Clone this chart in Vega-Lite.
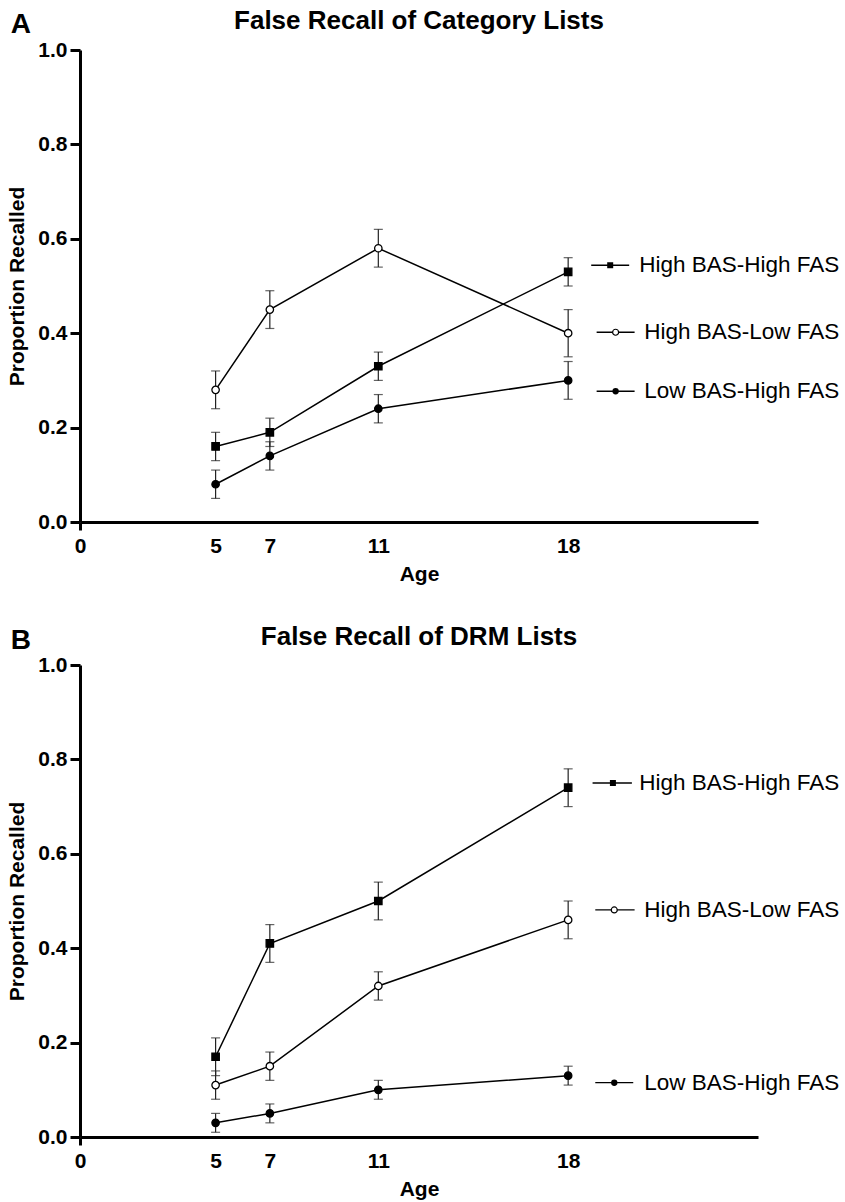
{
  "$schema": "https://vega.github.io/schema/vega-lite/v6.json",
  "background": "white",
  "padding": {"top": 8, "left": 6, "right": 0, "bottom": 2},
  "spacing": 40,
  "datasets": {
    "pts": [
      {"panel": "A", "series": "High BAS-High FAS", "age": 5, "mean": 0.16, "lo": 0.13, "hi": 0.19},
      {"panel": "A", "series": "High BAS-High FAS", "age": 7, "mean": 0.19, "lo": 0.16, "hi": 0.22},
      {"panel": "A", "series": "High BAS-High FAS", "age": 11, "mean": 0.33, "lo": 0.30, "hi": 0.36},
      {"panel": "A", "series": "High BAS-High FAS", "age": 18, "mean": 0.53, "lo": 0.50, "hi": 0.56},
      {"panel": "A", "series": "High BAS-Low FAS", "age": 5, "mean": 0.28, "lo": 0.24, "hi": 0.32},
      {"panel": "A", "series": "High BAS-Low FAS", "age": 7, "mean": 0.45, "lo": 0.41, "hi": 0.49},
      {"panel": "A", "series": "High BAS-Low FAS", "age": 11, "mean": 0.58, "lo": 0.54, "hi": 0.62},
      {"panel": "A", "series": "High BAS-Low FAS", "age": 18, "mean": 0.40, "lo": 0.35, "hi": 0.45},
      {"panel": "A", "series": "Low BAS-High FAS", "age": 5, "mean": 0.08, "lo": 0.05, "hi": 0.11},
      {"panel": "A", "series": "Low BAS-High FAS", "age": 7, "mean": 0.14, "lo": 0.11, "hi": 0.17},
      {"panel": "A", "series": "Low BAS-High FAS", "age": 11, "mean": 0.24, "lo": 0.21, "hi": 0.27},
      {"panel": "A", "series": "Low BAS-High FAS", "age": 18, "mean": 0.30, "lo": 0.26, "hi": 0.34},
      {"panel": "B", "series": "High BAS-High FAS", "age": 5, "mean": 0.17, "lo": 0.13, "hi": 0.21},
      {"panel": "B", "series": "High BAS-High FAS", "age": 7, "mean": 0.41, "lo": 0.37, "hi": 0.45},
      {"panel": "B", "series": "High BAS-High FAS", "age": 11, "mean": 0.50, "lo": 0.46, "hi": 0.54},
      {"panel": "B", "series": "High BAS-High FAS", "age": 18, "mean": 0.74, "lo": 0.70, "hi": 0.78},
      {"panel": "B", "series": "High BAS-Low FAS", "age": 5, "mean": 0.11, "lo": 0.08, "hi": 0.14},
      {"panel": "B", "series": "High BAS-Low FAS", "age": 7, "mean": 0.15, "lo": 0.12, "hi": 0.18},
      {"panel": "B", "series": "High BAS-Low FAS", "age": 11, "mean": 0.32, "lo": 0.29, "hi": 0.35},
      {"panel": "B", "series": "High BAS-Low FAS", "age": 18, "mean": 0.46, "lo": 0.42, "hi": 0.50},
      {"panel": "B", "series": "Low BAS-High FAS", "age": 5, "mean": 0.03, "lo": 0.01, "hi": 0.05},
      {"panel": "B", "series": "Low BAS-High FAS", "age": 7, "mean": 0.05, "lo": 0.03, "hi": 0.07},
      {"panel": "B", "series": "Low BAS-High FAS", "age": 11, "mean": 0.10, "lo": 0.08, "hi": 0.12},
      {"panel": "B", "series": "Low BAS-High FAS", "age": 18, "mean": 0.13, "lo": 0.11, "hi": 0.15}
    ]
  },
  "vconcat": [
    {
      "width": 678,
      "height": 472,
      "title": {"text": "False Recall of Category Lists"},
      "data": {"name": "pts"},
      "transform": [{"filter": "datum.panel === 'A'"}],
      "layer": [
        {
          "mark": {"type": "line", "color": "black", "strokeWidth": 1.5},
          "encoding": {
            "x": {"field": "age", "type": "quantitative", "title": "Age", "scale": {"domain": [0, 25], "nice": false}, "axis": {"values": [0, 5, 7, 11, 18], "tickSize": 8, "tickColor": {"condition": {"test": "datum.value === 0", "value": "black"}, "value": "transparent"}, "labelPadding": 5, "titlePadding": 7, "labelFlush": false}},
            "y": {"field": "mean", "type": "quantitative", "title": "Proportion Recalled", "scale": {"domain": [0, 1], "nice": false}, "axis": {"values": [0, 0.2, 0.4, 0.6, 0.8, 1], "format": ".1f", "tickSize": 10, "labelPadding": 3, "titlePadding": 10}},
            "detail": {"field": "series"}
          }
        },
        {
          "mark": {"type": "errorbar", "color": "#222", "ticks": {"size": 9, "thickness": 1.2}, "rule": {"strokeWidth": 1.2}},
          "encoding": {
            "x": {"field": "age", "type": "quantitative", "title": "Age"},
            "y": {"field": "lo", "type": "quantitative", "title": "Proportion Recalled"},
            "y2": {"field": "hi"}
          }
        },
        {
          "mark": {"type": "point", "stroke": "black", "strokeWidth": 1.3, "opacity": 1, "size": 55},
          "encoding": {
            "x": {"field": "age", "type": "quantitative", "title": "Age"},
            "y": {"field": "mean", "type": "quantitative", "title": "Proportion Recalled"},
            "shape": {"field": "series", "type": "nominal", "scale": {"domain": ["High BAS-High FAS", "High BAS-Low FAS", "Low BAS-High FAS"], "range": ["square", "circle", "circle"]}, "legend": null},
            "fill": {"field": "series", "type": "nominal", "scale": {"domain": ["High BAS-High FAS", "High BAS-Low FAS", "Low BAS-High FAS"], "range": ["black", "white", "black"]}, "legend": null}
          }
        },
        {
          "data": {"values": [{"label": "A"}]},
          "mark": {"type": "text", "fontSize": 28, "fontWeight": "bold", "align": "center", "baseline": "alphabetic", "color": "black"},
          "encoding": {"x": {"datum": -2.18, "type": "quantitative"}, "y": {"datum": 1.035, "type": "quantitative"}, "text": {"field": "label"}}
        },
        {
          "data": {"values": [{"series": "High BAS-High FAS"}]},
          "encoding": {"y": {"datum": 0.544, "type": "quantitative"}},
          "layer": [
            {"mark": {"type": "rule", "color": "black", "strokeWidth": 1.3}, "encoding": {"x": {"datum": 18.85, "type": "quantitative"}, "x2": {"datum": 20.25}}},
            {"mark": {"type": "point", "shape": "square", "filled": true, "color": "black", "opacity": 1, "size": 36}, "encoding": {"x": {"datum": 19.55, "type": "quantitative"}}},
            {"mark": {"type": "text", "align": "right", "baseline": "middle", "fontSize": 22.5, "color": "black"}, "encoding": {"x": {"datum": 28.0, "type": "quantitative"}, "text": {"field": "series"}}}
          ]
        },
        {
          "data": {"values": [{"series": "High BAS-Low FAS"}]},
          "encoding": {"y": {"datum": 0.402, "type": "quantitative"}},
          "layer": [
            {"mark": {"type": "rule", "color": "black", "strokeWidth": 1.3}, "encoding": {"x": {"datum": 19.05, "type": "quantitative"}, "x2": {"datum": 20.45}}},
            {"mark": {"type": "point", "shape": "circle", "filled": true, "fill": "white", "stroke": "black", "strokeWidth": 1.2, "opacity": 1, "size": 36}, "encoding": {"x": {"datum": 19.75, "type": "quantitative"}}},
            {"mark": {"type": "text", "align": "right", "baseline": "middle", "fontSize": 22.5, "color": "black"}, "encoding": {"x": {"datum": 28.0, "type": "quantitative"}, "text": {"field": "series"}}}
          ]
        },
        {
          "data": {"values": [{"series": "Low BAS-High FAS"}]},
          "encoding": {"y": {"datum": 0.277, "type": "quantitative"}},
          "layer": [
            {"mark": {"type": "rule", "color": "black", "strokeWidth": 1.3}, "encoding": {"x": {"datum": 19.05, "type": "quantitative"}, "x2": {"datum": 20.45}}},
            {"mark": {"type": "point", "shape": "circle", "filled": true, "color": "black", "opacity": 1, "size": 40}, "encoding": {"x": {"datum": 19.75, "type": "quantitative"}}},
            {"mark": {"type": "text", "align": "right", "baseline": "middle", "fontSize": 22.5, "color": "black"}, "encoding": {"x": {"datum": 28.0, "type": "quantitative"}, "text": {"field": "series"}}}
          ]
        }
      ]
    },
    {
      "width": 678,
      "height": 472,
      "title": {"text": "False Recall of DRM Lists"},
      "data": {"name": "pts"},
      "transform": [{"filter": "datum.panel === 'B'"}],
      "layer": [
        {
          "mark": {"type": "line", "color": "black", "strokeWidth": 1.5},
          "encoding": {
            "x": {"field": "age", "type": "quantitative", "title": "Age", "scale": {"domain": [0, 25], "nice": false}, "axis": {"values": [0, 5, 7, 11, 18], "tickSize": 8, "tickColor": {"condition": {"test": "datum.value === 0", "value": "black"}, "value": "transparent"}, "labelPadding": 5, "titlePadding": 7, "labelFlush": false}},
            "y": {"field": "mean", "type": "quantitative", "title": "Proportion Recalled", "scale": {"domain": [0, 1], "nice": false}, "axis": {"values": [0, 0.2, 0.4, 0.6, 0.8, 1], "format": ".1f", "tickSize": 10, "labelPadding": 3, "titlePadding": 10}},
            "detail": {"field": "series"}
          }
        },
        {
          "mark": {"type": "errorbar", "color": "#222", "ticks": {"size": 9, "thickness": 1.2}, "rule": {"strokeWidth": 1.2}},
          "encoding": {
            "x": {"field": "age", "type": "quantitative", "title": "Age"},
            "y": {"field": "lo", "type": "quantitative", "title": "Proportion Recalled"},
            "y2": {"field": "hi"}
          }
        },
        {
          "mark": {"type": "point", "stroke": "black", "strokeWidth": 1.3, "opacity": 1, "size": 55},
          "encoding": {
            "x": {"field": "age", "type": "quantitative", "title": "Age"},
            "y": {"field": "mean", "type": "quantitative", "title": "Proportion Recalled"},
            "shape": {"field": "series", "type": "nominal", "scale": {"domain": ["High BAS-High FAS", "High BAS-Low FAS", "Low BAS-High FAS"], "range": ["square", "circle", "circle"]}, "legend": null},
            "fill": {"field": "series", "type": "nominal", "scale": {"domain": ["High BAS-High FAS", "High BAS-Low FAS", "Low BAS-High FAS"], "range": ["black", "white", "black"]}, "legend": null}
          }
        },
        {
          "data": {"values": [{"label": "B"}]},
          "mark": {"type": "text", "fontSize": 28, "fontWeight": "bold", "align": "center", "baseline": "alphabetic", "color": "black"},
          "encoding": {"x": {"datum": -2.18, "type": "quantitative"}, "y": {"datum": 1.033, "type": "quantitative"}, "text": {"field": "label"}}
        },
        {
          "data": {"values": [{"series": "High BAS-High FAS"}]},
          "encoding": {"y": {"datum": 0.75, "type": "quantitative"}},
          "layer": [
            {"mark": {"type": "rule", "color": "black", "strokeWidth": 1.3}, "encoding": {"x": {"datum": 18.9, "type": "quantitative"}, "x2": {"datum": 20.35}}},
            {"mark": {"type": "point", "shape": "square", "filled": true, "color": "black", "opacity": 1, "size": 36}, "encoding": {"x": {"datum": 19.65, "type": "quantitative"}}},
            {"mark": {"type": "text", "align": "right", "baseline": "middle", "fontSize": 22.5, "color": "black"}, "encoding": {"x": {"datum": 28.0, "type": "quantitative"}, "text": {"field": "series"}}}
          ]
        },
        {
          "data": {"values": [{"series": "High BAS-Low FAS"}]},
          "encoding": {"y": {"datum": 0.481, "type": "quantitative"}},
          "layer": [
            {"mark": {"type": "rule", "color": "black", "strokeWidth": 1.3}, "encoding": {"x": {"datum": 19.0, "type": "quantitative"}, "x2": {"datum": 20.45}}},
            {"mark": {"type": "point", "shape": "circle", "filled": true, "fill": "white", "stroke": "black", "strokeWidth": 1.2, "opacity": 1, "size": 36}, "encoding": {"x": {"datum": 19.7, "type": "quantitative"}}},
            {"mark": {"type": "text", "align": "right", "baseline": "middle", "fontSize": 22.5, "color": "black"}, "encoding": {"x": {"datum": 28.0, "type": "quantitative"}, "text": {"field": "series"}}}
          ]
        },
        {
          "data": {"values": [{"series": "Low BAS-High FAS"}]},
          "encoding": {"y": {"datum": 0.115, "type": "quantitative"}},
          "layer": [
            {"mark": {"type": "rule", "color": "black", "strokeWidth": 1.3}, "encoding": {"x": {"datum": 19.0, "type": "quantitative"}, "x2": {"datum": 20.4}}},
            {"mark": {"type": "point", "shape": "circle", "filled": true, "color": "black", "opacity": 1, "size": 40}, "encoding": {"x": {"datum": 19.7, "type": "quantitative"}}},
            {"mark": {"type": "text", "align": "right", "baseline": "middle", "fontSize": 22.5, "color": "black"}, "encoding": {"x": {"datum": 28.0, "type": "quantitative"}, "text": {"field": "series"}}}
          ]
        }
      ]
    }
  ],
  "config": {
    "view": {"stroke": null},
    "font": "Liberation Sans",
    "axis": {"domainColor": "black", "domainWidth": 3, "tickColor": "black", "tickWidth": 3, "grid": false, "labelFont": "Liberation Sans", "labelFontSize": 21, "labelFontWeight": "bold", "labelColor": "black", "titleFont": "Liberation Sans", "titleFontSize": 21, "titleFontWeight": "bold", "titleColor": "black"},
    "title": {"font": "Liberation Sans", "fontSize": 26, "fontWeight": "bold", "color": "black", "baseline": "alphabetic", "offset": -23, "anchor": "middle", "frame": "group"}
  }
}
